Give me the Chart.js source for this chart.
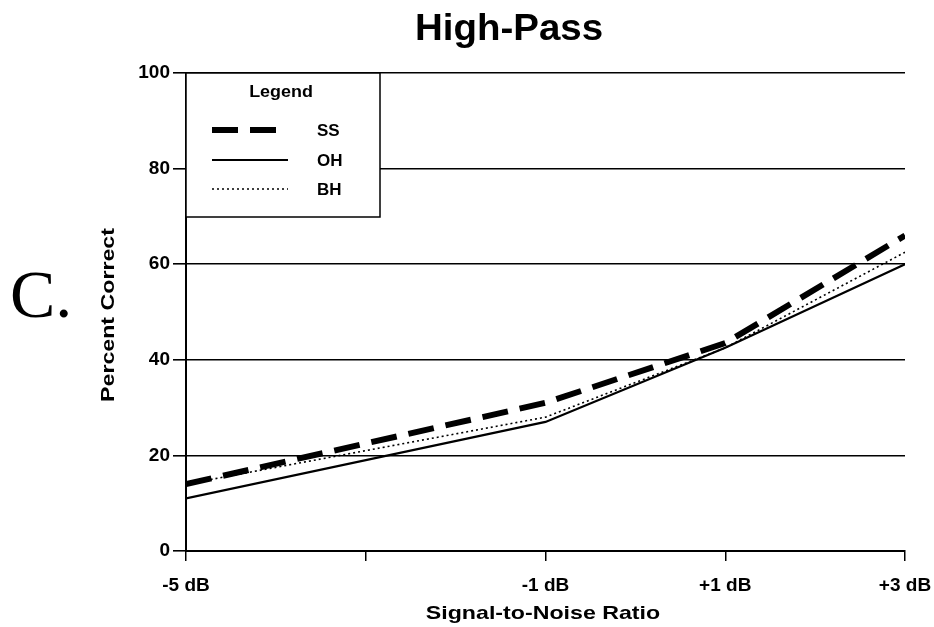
<!DOCTYPE html>
<html>
<head>
<meta charset="utf-8">
<script src="https://cdn.jsdelivr.net/npm/chart.js@4.4.1/dist/chart.umd.min.js"></script>
<style>
  html, body { margin: 0; padding: 0; background: #fff; }
  #wrap { width: 934px; height: 627px; position: relative; }
</style>
</head>
<body>
<div id="wrap"><canvas id="c" width="934" height="627"></canvas></div>
<script>
// ---- data ----
const snrValues = [-5, -1, 1, 3];
const ssValues = [14, 31, 43.5, 66];
const ohValues = [11, 27, 42.5, 60];
const bhValues = [14, 28, 42.5, 62.5];
const seriesNames = ['SS', 'OH', 'BH'];
const xTickValues = [-5, -3, -1, 1, 3];
const xTickLabels = ['-5 dB', '', '-1 dB', '+1 dB', '+3 dB'];
const yTickValues = [0, 20, 40, 60, 80, 100];
const chartTitle = 'High-Pass';
const panelLetter = 'C.';
const xAxisTitle = 'Signal-to-Noise Ratio';
const yAxisTitle = 'Percent Correct';
const legendTitle = 'Legend';

const FONT = '"Liberation Sans", Arial, Helvetica, sans-serif';

function pts(vals) { return snrValues.map((x, i) => ({ x: x, y: vals[i] })); }

const styles = [
  { borderWidth: 6, borderDash: [26, 12] },
  { borderWidth: 2.2, borderDash: [] },
  { borderWidth: 1.6, borderDash: [2, 3] }
];
const allVals = [ssValues, ohValues, bhValues];

const datasets = seriesNames.map((name, i) => ({
  label: name,
  data: pts(allVals[i]),
  borderColor: '#000',
  backgroundColor: '#000',
  borderWidth: styles[i].borderWidth,
  borderDash: styles[i].borderDash,
  borderCapStyle: 'butt',
  pointRadius: 0,
  tension: 0,
  fill: false,
  order: 3 - i
}));

const PAD = { left: 120, right: 29, top: 73, bottom: 5 };
const PLOT_LEFT = 186, PLOT_BOTTOM = 551;

function stretchedText(ctx, text, x, y, sx) {
  ctx.save();
  ctx.translate(x, y);
  ctx.scale(sx, 1);
  ctx.fillText(text, 0, 0);
  ctx.restore();
}

const decorPlugin = {
  id: 'decor',
  afterDraw(chart) {
    const ctx = chart.ctx;
    const ca = chart.chartArea;
    ctx.save();
    ctx.fillStyle = '#000';
    // title
    ctx.font = 'bold 37px ' + FONT;
    ctx.textAlign = 'center';
    ctx.textBaseline = 'alphabetic';
    stretchedText(ctx, chartTitle, 509, 40, 1.04);
    // panel letter
    ctx.font = '68px "Liberation Serif", "Times New Roman", serif';
    ctx.textAlign = 'left';
    ctx.fillText(panelLetter, 10, 317);
    // x title
    ctx.font = 'bold 19px ' + FONT;
    ctx.textAlign = 'center';
    ctx.textBaseline = 'alphabetic';
    stretchedText(ctx, xAxisTitle, 543, 619, 1.22);
    // y title
    ctx.save();
    ctx.translate(114, (ca.top + ca.bottom) / 2 + 3);
    ctx.rotate(-Math.PI / 2);
    ctx.scale(1.22, 1);
    ctx.fillText(yAxisTitle, 0, 0);
    ctx.restore();

    // legend box
    const bx = ca.left, by = ca.top, bw = 380 - ca.left, bh = 217 - ca.top;
    ctx.fillStyle = '#fff';
    ctx.fillRect(bx, by, bw, bh);
    ctx.strokeStyle = '#000';
    ctx.lineWidth = 1.5;
    ctx.strokeRect(bx, by, bw, bh);
    ctx.fillStyle = '#000';
    ctx.font = 'bold 16px ' + FONT;
    ctx.textAlign = 'center';
    ctx.textBaseline = 'middle';
    stretchedText(ctx, legendTitle, 281, 93, 1.12);
    const rows = [130, 160, 189];
    chart.data.datasets.forEach((ds, i) => {
      const y = rows[i];
      ctx.beginPath();
      ctx.setLineDash(ds.borderDash || []);
      ctx.lineWidth = ds.borderWidth;
      ctx.lineCap = 'butt';
      ctx.strokeStyle = ds.borderColor;
      ctx.moveTo(212, y);
      ctx.lineTo(288, y);
      ctx.stroke();
      ctx.setLineDash([]);
      ctx.font = 'bold 17px ' + FONT;
      ctx.textAlign = 'left';
      ctx.fillText(ds.label, 317, y + 1);
    });
    ctx.restore();
  }
};

new Chart(document.getElementById('c'), {
  type: 'line',
  data: { datasets: datasets },
  options: {
    responsive: false,
    animation: false,
    devicePixelRatio: 1,
    layout: { padding: PAD },
    plugins: { legend: { display: false }, title: { display: false }, tooltip: { enabled: false } },
    scales: {
      x: {
        type: 'linear',
        min: -5, max: 3,
        afterBuildTicks(scale) { scale.ticks = xTickValues.map(v => ({ value: v })); },
        afterFit(scale) {
          scale.height = 627 - PLOT_BOTTOM - PAD.bottom;
          scale.paddingLeft = 0;
          scale.paddingRight = 0;
        },
        ticks: {
          callback(v) { const i = xTickValues.indexOf(v); return i >= 0 ? xTickLabels[i] : ''; },
          color: '#000',
          font: { family: FONT, size: 19, weight: 'bold' },
          padding: 13,
          maxRotation: 0,
          autoSkip: false
        },
        grid: { drawOnChartArea: false, drawTicks: true, tickLength: 10, color: '#000', lineWidth: 1.5 },
        border: { display: true, color: '#000', width: 2 }
      },
      y: {
        type: 'linear',
        min: 0, max: 100,
        afterBuildTicks(scale) { scale.ticks = yTickValues.map(v => ({ value: v })); },
        afterFit(scale) {
          scale.width = PLOT_LEFT - PAD.left;
          scale.paddingTop = 0;
          scale.paddingBottom = 0;
        },
        ticks: {
          color: '#000',
          font: { family: FONT, size: 19, weight: 'bold' },
          padding: 3
        },
        grid: { color: '#000', lineWidth: 1.6, tickLength: 13 },
        border: { display: true, color: '#000', width: 2 }
      }
    }
  },
  plugins: [decorPlugin]
});
</script>
</body>
</html>
